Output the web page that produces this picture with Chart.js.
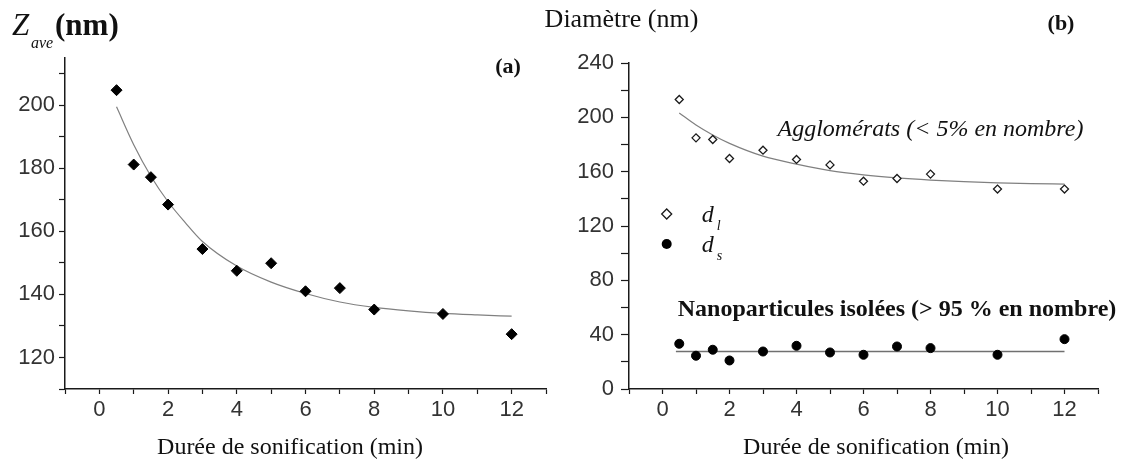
<!DOCTYPE html>
<html lang="fr">
<head>
<meta charset="utf-8">
<title>Durée de sonification</title>
<script src="https://cdn.jsdelivr.net/npm/chart.js@4.4.1/dist/chart.umd.min.js"></script>
<style>
  html, body { margin: 0; padding: 0; background: #fff; }
  #page { position: relative; width: 1127px; height: 464px; overflow: hidden; }
  canvas { position: absolute; top: 0; }
  #chartA { left: 0; }
  #chartB { left: 520px; }
</style>
</head>
<body>
<div id="page">
  <canvas id="chartA" width="563" height="464"></canvas>
  <canvas id="chartB" width="607" height="464"></canvas>
</div>
<script>
// (a) Z_ave mesuré
const dureeA = [0.5, 1, 1.5, 2, 3, 4, 5, 6, 7, 8, 10, 12];
const zAve = [204.8, 181.2, 177.2, 168.5, 154.4, 147.5, 149.9, 141.0, 142.0, 135.2, 133.8, 127.4];
// courbe d'ajustement (a)
const ajustAX = [0.5, 1, 1.5, 2, 2.5, 3, 4, 5, 6, 7, 8, 9, 10, 11, 12];
const ajustAY = [199.5, 187.5, 177.5, 169.4, 162.8, 156.8, 149.0, 143.9, 140.3, 137.6, 135.9, 134.8, 134.0, 133.5, 133.1];

// (b) diamètres d_l (agglomérats) et d_s (nanoparticules)
const dureeB = [0.5, 1, 1.5, 2, 3, 4, 5, 6, 7, 8, 10, 12];
const dL = [213.1, 184.9, 183.7, 169.7, 175.8, 169.0, 165.0, 153.0, 155.0, 158.2, 147.2, 147.2];
const dS = [33.3, 24.5, 28.9, 21.0, 27.6, 31.8, 26.9, 25.2, 31.3, 30.1, 25.2, 36.7];
const ajustLX = [0.5, 1, 1.5, 2, 3, 4, 5, 6, 7, 8, 9, 10, 11, 12];
const ajustLY = [203.2, 194.3, 187.0, 180.8, 171.4, 165.5, 160.7, 157.6, 155.4, 153.8, 152.6, 151.7, 151.2, 150.9];
const ajustSX = [0.4, 12];
const ajustSY = [27.6, 27.6];

// axes
const xAxe = { min: -1, max: 13, step: 1, labels: [0, 2, 4, 6, 8, 10, 12] };
const yAxeA = { min: 110, max: 215, step: 10, labels: [120, 140, 160, 180, 200] };
const yAxeB = { min: 0, max: 240, step: 20, labels: [0, 40, 80, 120, 160, 200, 240] };

const SERIF = '"Liberation Serif", "Times New Roman", serif';
const INK = '#1a1a1a';
const pts = (xs, ys) => xs.map((x, i) => ({ x: x, y: ys[i] }));

function graduations(a) {
  return function (s) {
    const t = [];
    for (let v = a.min; v <= a.max + 1e-9; v += a.step) t.push({ value: v });
    s.ticks = t;
  };
}

function echelles(yAxe, yWidth, yTickLen, yPad) {
  const tickFont = { family: '"Liberation Sans", Arial, sans-serif', size: 22 };
  return {
    x: {
      type: 'linear', min: xAxe.min, max: xAxe.max,
      afterBuildTicks: graduations(xAxe),
      afterFit: s => { s.height = 75; },
      ticks: {
        autoSkip: false, maxRotation: 0, padding: 3, color: '#333', font: tickFont,
        callback: v => xAxe.labels.includes(v) ? String(v) : ''
      },
      grid: { drawOnChartArea: false, drawTicks: true, tickLength: 5, color: INK, tickWidth: 1.2 },
      border: { color: INK, width: 1.5 }
    },
    y: {
      type: 'linear', min: yAxe.min, max: yAxe.max,
      afterBuildTicks: graduations(yAxe),
      afterFit: s => { s.width = yWidth; },
      ticks: {
        autoSkip: false, padding: yPad, color: '#333', font: tickFont,
        callback: v => yAxe.labels.includes(v) ? String(v) : ''
      },
      grid: { drawOnChartArea: false, drawTicks: true, tickLength: yTickLen, color: INK, tickWidth: 1.2 },
      border: { color: INK, width: 1.5 }
    }
  };
}

function texte(ctx, str, x, y, font, align, baseline) {
  ctx.save();
  ctx.font = font;
  ctx.fillStyle = '#111';
  ctx.textAlign = align || 'center';
  ctx.textBaseline = baseline || 'middle';
  ctx.fillText(str, x, y);
  ctx.restore();
}

const base = {
  responsive: false,
  animation: false,
  devicePixelRatio: 1,
  plugins: { legend: { display: false }, tooltip: { enabled: false } }
};

// ---------- (a) ----------
new Chart(document.getElementById('chartA'), {
  type: 'scatter',
  data: {
    datasets: [
      {
        data: pts(dureeA, zAve),
        pointStyle: 'rectRot', pointRadius: 5.5,
        backgroundColor: '#000', borderColor: '#000', borderWidth: 1
      },
      {
        data: pts(ajustAX, ajustAY),
        showLine: true, pointRadius: 0, borderColor: '#808080', borderWidth: 1.2,
        cubicInterpolationMode: 'monotone'
      }
    ]
  },
  options: Object.assign({}, base, {
    layout: { padding: { left: 0, top: 58, right: 17, bottom: 0 } },
    scales: echelles(yAxeA, 65, 6, 4)
  }),
  plugins: [{
    id: 'textesA',
    afterDraw(chart) {
      const ctx = chart.ctx;
      texte(ctx, 'Z', 12, 35, 'italic 31px ' + SERIF, 'left', 'alphabetic');
      texte(ctx, 'ave', 31, 48, 'italic 16px ' + SERIF, 'left', 'alphabetic');
      texte(ctx, '(nm)', 55, 35, 'bold 31px ' + SERIF, 'left', 'alphabetic');
      texte(ctx, '(a)', 508, 67, 'bold 22px ' + SERIF);
      texte(ctx, 'Durée de sonification (min)', 290, 448, '24px ' + SERIF);
    }
  }]
});

// ---------- (b) ----------
new Chart(document.getElementById('chartB'), {
  type: 'scatter',
  data: {
    datasets: [
      {
        data: pts(dureeB, dL),
        pointStyle: 'rectRot', pointRadius: 4,
        backgroundColor: '#fff', borderColor: INK, borderWidth: 1.3
      },
      {
        data: pts(dureeB, dS),
        pointStyle: 'circle', pointRadius: 4.5,
        backgroundColor: '#000', borderColor: '#000', borderWidth: 1
      },
      {
        data: pts(ajustLX, ajustLY),
        showLine: true, pointRadius: 0, borderColor: '#808080', borderWidth: 1.2,
        cubicInterpolationMode: 'monotone'
      },
      {
        data: pts(ajustSX, ajustSY),
        showLine: true, pointRadius: 0, borderColor: '#707070', borderWidth: 1.5
      }
    ]
  },
  options: Object.assign({}, base, {
    layout: { padding: { left: 0, top: 63, right: 29, bottom: 0 } },
    scales: echelles(yAxeB, 109, 8, 7)
  }),
  plugins: [{
    id: 'textesB',
    afterDraw(chart) {
      const ctx = chart.ctx;
      const sx = chart.scales.x, sy = chart.scales.y;
      texte(ctx, 'Diamètre (nm)', 101.5, 20, '26px ' + SERIF);
      texte(ctx, '(b)', 541, 24, 'bold 22px ' + SERIF);
      texte(ctx, 'Durée de sonification (min)', 356, 448, '24px ' + SERIF);
      texte(ctx, 'Agglomérats (< 5% en nombre)', sx.getPixelForValue(8), sy.getPixelForValue(191), 'italic 24px ' + SERIF);
      texte(ctx, 'Nanoparticules isolées (> 95 % en nombre)', sx.getPixelForValue(7), sy.getPixelForValue(58), 'bold 24px ' + SERIF);

      // légende
      const lx = chart.chartArea.left + 37.7;
      ctx.save();
      ctx.beginPath();
      ctx.moveTo(lx - 5, 214); ctx.lineTo(lx, 209); ctx.lineTo(lx + 5, 214); ctx.lineTo(lx, 219); ctx.closePath();
      ctx.fillStyle = '#fff'; ctx.fill();
      ctx.strokeStyle = INK; ctx.lineWidth = 1.3; ctx.stroke();
      ctx.beginPath();
      ctx.arc(lx, 244, 5, 0, Math.PI * 2);
      ctx.fillStyle = '#000'; ctx.fill();
      ctx.restore();
      texte(ctx, 'd', lx + 35, 221.7, 'italic 24px ' + SERIF, 'left', 'alphabetic');
      texte(ctx, 'l', lx + 50, 230, 'italic 14px ' + SERIF, 'left', 'alphabetic');
      texte(ctx, 'd', lx + 35, 251.7, 'italic 24px ' + SERIF, 'left', 'alphabetic');
      texte(ctx, 's', lx + 50, 260, 'italic 14px ' + SERIF, 'left', 'alphabetic');
    }
  }]
});
</script>
</body>
</html>
